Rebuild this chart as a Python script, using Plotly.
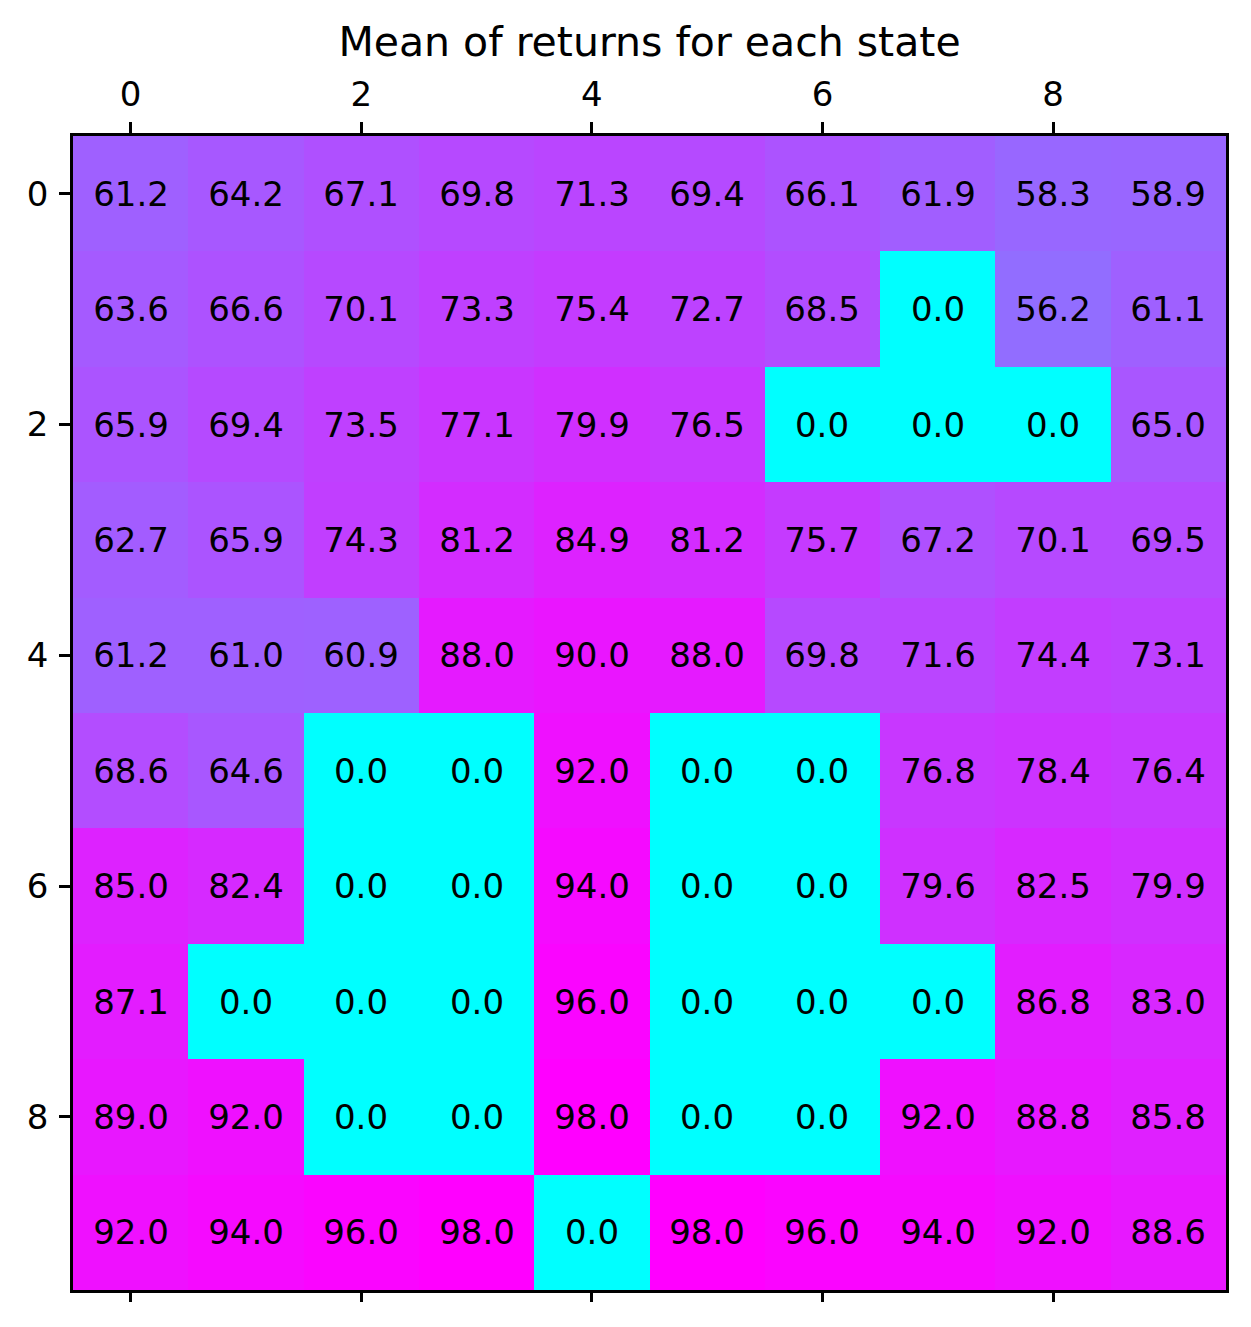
import plotly.graph_objects as go

rows = list(range(10))
cols = list(range(10))
values = [
    [61.2, 64.2, 67.1, 69.8, 71.3, 69.4, 66.1, 61.9, 58.3, 58.9],
    [63.6, 66.6, 70.1, 73.3, 75.4, 72.7, 68.5, 0.0, 56.2, 61.1],
    [65.9, 69.4, 73.5, 77.1, 79.9, 76.5, 0.0, 0.0, 0.0, 65.0],
    [62.7, 65.9, 74.3, 81.2, 84.9, 81.2, 75.7, 67.2, 70.1, 69.5],
    [61.2, 61.0, 60.9, 88.0, 90.0, 88.0, 69.8, 71.6, 74.4, 73.1],
    [68.6, 64.6, 0.0, 0.0, 92.0, 0.0, 0.0, 76.8, 78.4, 76.4],
    [85.0, 82.4, 0.0, 0.0, 94.0, 0.0, 0.0, 79.6, 82.5, 79.9],
    [87.1, 0.0, 0.0, 0.0, 96.0, 0.0, 0.0, 0.0, 86.8, 83.0],
    [89.0, 92.0, 0.0, 0.0, 98.0, 0.0, 0.0, 92.0, 88.8, 85.8],
    [92.0, 94.0, 96.0, 98.0, 0.0, 98.0, 96.0, 94.0, 92.0, 88.6],
]
tick_vals = [0, 2, 4, 6, 8]
title = "Mean of returns for each state"

W, H = 1251, 1327
# the page body adds an offset; margins compensate for it
L, R, T, B = 65, 33, 128, 45
FONT = "DejaVu Sans"
FS = 34

zmin = min(min(r) for r in values)
zmax = max(max(r) for r in values)

fig = go.Figure()
fig.add_trace(go.Heatmap(
    z=values, x=cols, y=rows,
    colorscale=[[0, "rgb(0,255,255)"], [1, "rgb(255,0,255)"]],
    zmin=zmin, zmax=zmax, showscale=False,
    texttemplate="%{z:.1f}",
    textfont=dict(family=FONT, size=FS, color="black"),
    hoverinfo="skip",
))
# invisible trace to carry bottom x-axis ticks
fig.add_trace(go.Scatter(x=[cols[0]], y=[rows[0]], xaxis="x2", mode="markers",
                         marker=dict(opacity=0), showlegend=False, hoverinfo="skip"))

axis_common = dict(tickvals=tick_vals, ticks="outside",
                   ticklen=11, tickwidth=2.5, tickcolor="black",
                   showgrid=False, zeroline=False,
                   tickfont=dict(family=FONT, size=FS, color="black"))

fig.update_layout(
    width=W, height=H,
    margin=dict(l=L, r=R, t=T, b=B),
    plot_bgcolor="white", paper_bgcolor="white",
    title=dict(text=title, x=(L + (W - R)) / 2 / W, xanchor="center",
               y=1 - 34 / H, yanchor="middle",
               font=dict(family=FONT, size=41, color="black")),
    xaxis=dict(side="top", range=[-0.5, 9.5], showline=True, linecolor="black",
               linewidth=2.5, mirror=True, ticklabelstandoff=3, **axis_common),
    xaxis2=dict(side="bottom", range=[-0.5, 9.5], overlaying="x", anchor="y",
                showticklabels=False, showline=False, **axis_common),
    yaxis=dict(range=[9.5, -0.5], showline=True, linecolor="black", linewidth=2.5,
               mirror=True, ticklabelstandoff=4, **axis_common),
    showlegend=False,
)

fig.write_html("out.html")
